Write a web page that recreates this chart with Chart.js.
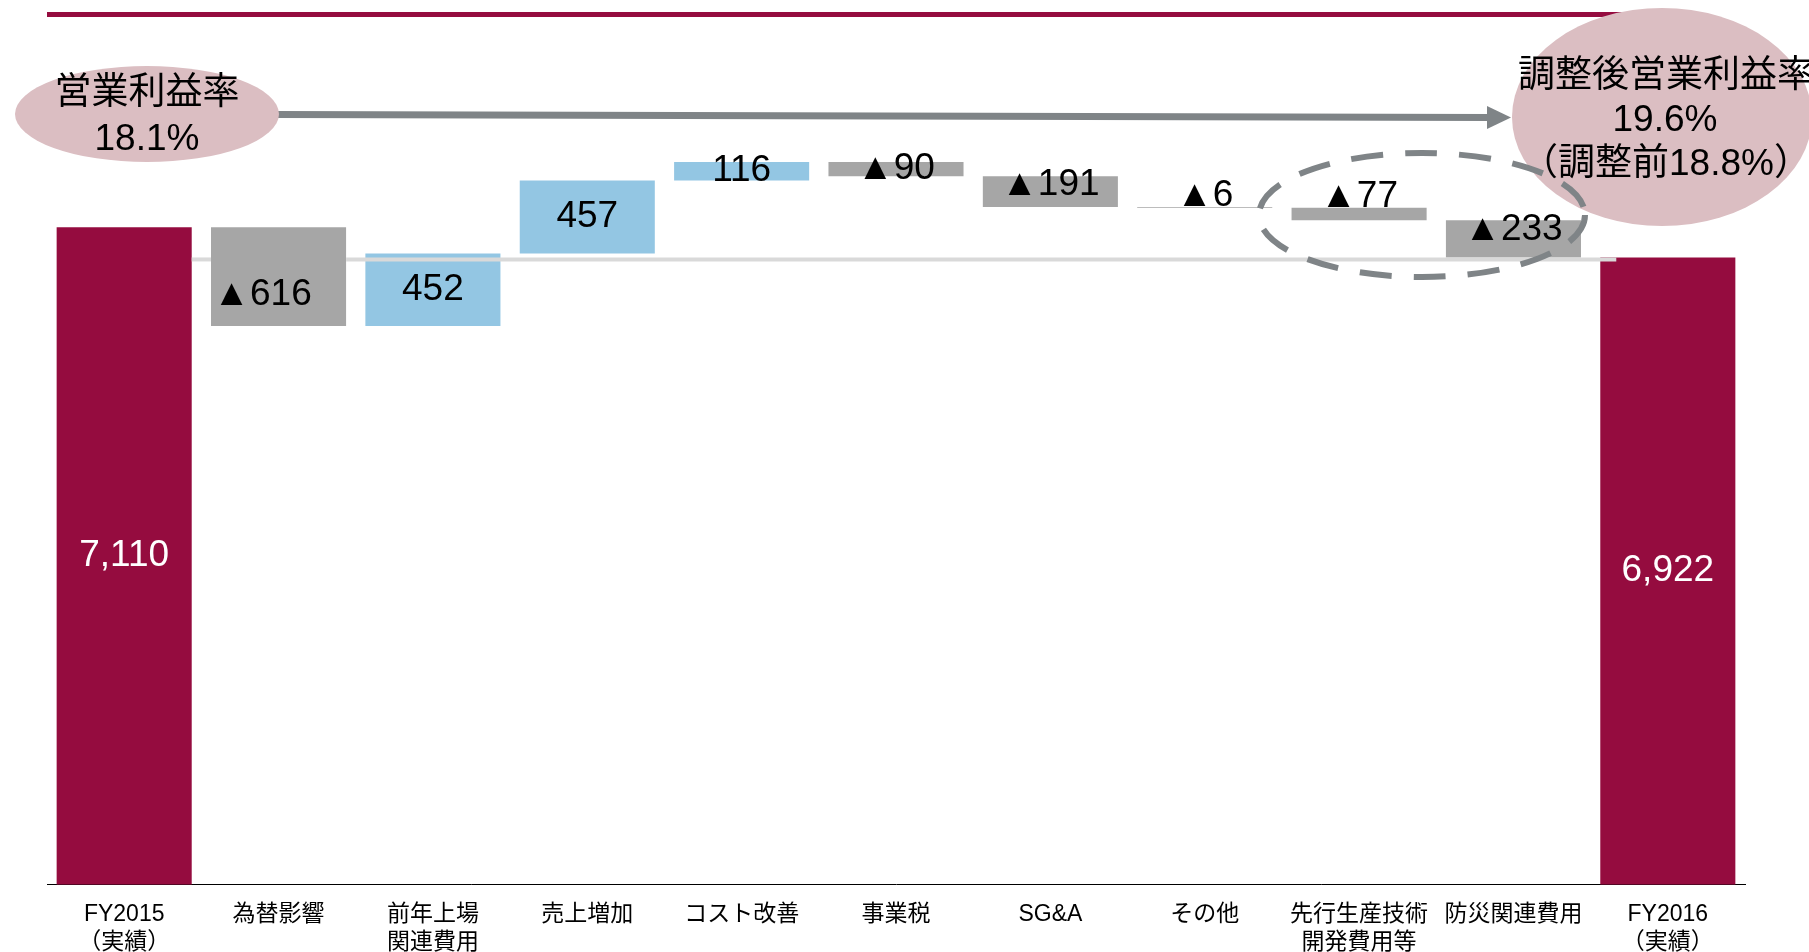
<!DOCTYPE html>
<html lang="ja">
<head>
<meta charset="utf-8">
<title>営業利益 増減要因 FY2015→FY2016</title>
<script src="https://cdn.jsdelivr.net/npm/chart.js@4.4.1/dist/chart.umd.min.js"></script>
<style>
  html, body { margin: 0; padding: 0; background: #fff; overflow: hidden; }
  #wrap { width: 1809px; height: 972px; position: relative; }
</style>
</head>
<body>
<div id="wrap"><canvas id="bridge"></canvas></div>
<script>
// === Data ===
const categories = [
  ['FY2015', '（実績）'], '為替影響', ['前年上場', '関連費用'], '売上増加', 'コスト改善',
  '事業税', 'SG&A', 'その他', ['先行生産技術', '開発費用等'], '防災関連費用', ['FY2016', '（実績）']
];
const startTotal = 7110;
const endTotal = 6922;
const changes = [-616, 452, 457, 116, -90, -191, -6, -77, -233];
const marginBefore = ['営業利益率', '18.1%'];
const marginAfter = ['調整後営業利益率', '19.6%', '（調整前18.8%）'];
const axisMin = 3000;
const axisMax = 8000;

// === Styles ===
const MAROON = '#950C3F';
const COLORS = { total: MAROON, up: '#93C6E3', down: '#A6A6A6' };
const ARROW_GRAY = '#7F8487';
const PINK = '#DBBEC2';
const FONT = '"Liberation Sans", "Noto Sans CJK JP", sans-serif';
const VALUE_FONT = '"Liberation Sans", "DejaVu Sans", sans-serif';

// === Build waterfall ranges ===
const ranges = [[axisMin, startTotal]];
const kinds = ['total'];
const valueLabels = [startTotal.toLocaleString('en-US')];
let running = startTotal;
changes.forEach(d => {
  ranges.push([running, running + d]);
  kinds.push(d < 0 ? 'down' : 'up');
  valueLabels.push(d < 0 ? '▲' + Math.abs(d) : String(d));
  running += d;
});
ranges.push([axisMin, endTotal]);
kinds.push('total');
valueLabels.push(endTotal.toLocaleString('en-US'));

// small manual nudges for a few labels [dx, dy]
const labelNudge = { 1: [-16, 18], 6: [0, -7], 9: [0, -9] };

// === Plugins ===
const barLabels = {
  id: 'barLabels',
  afterDatasetsDraw(chart) {
    const { ctx } = chart;
    const bars = chart.getDatasetMeta(0).data;
    const yScale = chart.scales.y;

    // light reference line at the FY2016 level, hidden behind the gray bars
    const refY = yScale.getPixelForValue(endTotal) + 2;
    const first = bars[0], last = bars[bars.length - 1];
    const x0 = first.x + first.width / 2;
    const x1 = last.x - last.width / 2 + 16;
    const covers = [];
    bars.forEach((b, i) => {
      if (kinds[i] !== 'down') return;
      const top = Math.min(b.y, b.base), bottom = Math.max(b.y, b.base);
      if (refY > top && refY < bottom) covers.push([b.x - b.width / 2, b.x + b.width / 2]);
    });
    ctx.save();
    ctx.strokeStyle = '#D9D9D9';
    ctx.lineWidth = 4;
    let cur = x0;
    covers.sort((a, b) => a[0] - b[0]).forEach(([a, b]) => {
      if (a > cur) { ctx.beginPath(); ctx.moveTo(cur, refY); ctx.lineTo(a, refY); ctx.stroke(); }
      cur = Math.max(cur, b);
    });
    if (cur < x1) { ctx.beginPath(); ctx.moveTo(cur, refY); ctx.lineTo(x1, refY); ctx.stroke(); }

    // value labels
    ctx.font = '37px ' + VALUE_FONT;
    ctx.textAlign = 'center';
    bars.forEach((b, i) => {
      const top = Math.min(b.y, b.base);
      const h = Math.abs(b.base - b.y);
      const [dx, dy] = labelNudge[i] || [0, 0];
      ctx.fillStyle = kinds[i] === 'total' ? '#fff' : '#000';
      if (h < 13) {
        ctx.textBaseline = 'alphabetic';
        ctx.fillText(valueLabels[i], b.x + dx, top - 1);
      } else {
        ctx.textBaseline = 'middle';
        ctx.fillText(valueLabels[i], b.x + dx, top + h / 2 + dy);
      }
    });
    ctx.restore();
  }
};

const annotations = {
  id: 'annotations',
  afterDraw(chart) {
    const { ctx, chartArea } = chart;
    ctx.save();

    // header rule (runs in under the right bubble)
    ctx.fillStyle = MAROON;
    ctx.fillRect(chartArea.left, 12, chartArea.right - chartArea.left - 115, 5);

    // arrow between the two margin bubbles
    ctx.strokeStyle = ARROW_GRAY;
    ctx.fillStyle = ARROW_GRAY;
    ctx.lineWidth = 7;
    ctx.beginPath();
    ctx.moveTo(278, 114.5);
    ctx.lineTo(1490, 117.5);
    ctx.stroke();
    ctx.beginPath();
    ctx.moveTo(1487, 106);
    ctx.lineTo(1511, 117.5);
    ctx.lineTo(1487, 129);
    ctx.closePath();
    ctx.fill();

    // bubbles
    ctx.fillStyle = PINK;
    ctx.beginPath();
    ctx.ellipse(147, 114, 132, 48, 0, 0, Math.PI * 2);
    ctx.fill();
    ctx.beginPath();
    ctx.ellipse(1662, 117, 150, 109, 0, 0, Math.PI * 2);
    ctx.fill();

    // dashed ring round the one-off cost items
    ctx.strokeStyle = ARROW_GRAY;
    ctx.lineWidth = 6;
    ctx.setLineDash([32, 22]);
    ctx.beginPath();
    ctx.ellipse(1422, 215, 163, 62, 0, 0, Math.PI * 2);
    ctx.stroke();
    ctx.setLineDash([]);

    // bubble texts
    ctx.fillStyle = '#000';
    ctx.textAlign = 'center';
    ctx.textBaseline = 'middle';
    ctx.font = '37px ' + FONT;
    ctx.fillText(marginBefore[0], 147, 94);
    ctx.fillText(marginBefore[1], 147, 140);
    ctx.fillText(marginAfter[0], 1666, 77);
    ctx.fillText(marginAfter[1], 1665, 121);
    ctx.fillText(marginAfter[2], 1666, 165);
    ctx.restore();
  }
};

// === Chart ===
new Chart(document.getElementById('bridge'), {
  type: 'bar',
  data: {
    labels: categories,
    datasets: [{
      data: ranges,
      backgroundColor: kinds.map(k => COLORS[k]),
      borderWidth: 0,
      barPercentage: 0.875,
      categoryPercentage: 1.0
    }]
  },
  options: {
    responsive: true,
    maintainAspectRatio: false,
    animation: false,
    layout: { padding: { top: 85, left: 47, right: 64, bottom: 0 } },
    plugins: { legend: { display: false }, tooltip: { enabled: false } },
    scales: {
      x: {
        grid: { display: false, drawTicks: false },
        border: { display: true, color: '#000', width: 1 },
        ticks: {
          color: '#000',
          padding: 16,
          maxRotation: 0,
          autoSkip: false,
          font: { family: FONT, size: 23, lineHeight: 1.2 }
        }
      },
      y: {
        display: false,
        min: axisMin,
        max: axisMax
      }
    }
  },
  plugins: [barLabels, annotations]
});
</script>
</body>
</html>
